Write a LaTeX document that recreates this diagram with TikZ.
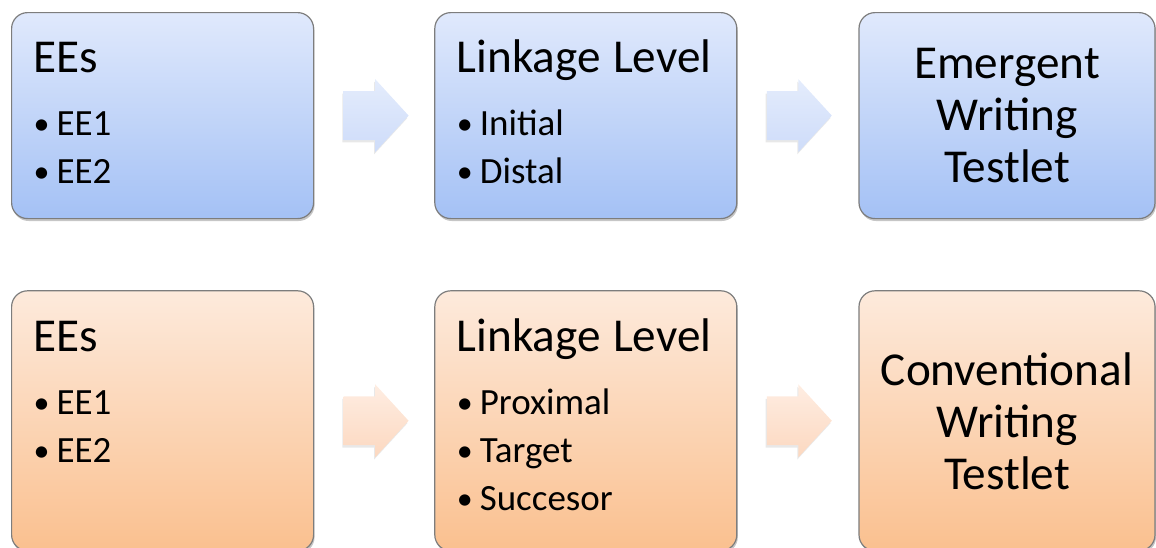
\documentclass[tikz,border=0pt]{standalone}
\usepackage{fontspec}
\setmainfont{Carlito}
\usepackage{xcolor}
\usepackage{tikz}
\usetikzlibrary{positioning}
\usetikzlibrary{calc}
\usetikzlibrary{shapes.arrows}
\usetikzlibrary{shadows}

\definecolor{bluetop}{RGB}{224,233,252}
\definecolor{bluebot}{RGB}{164,193,245}
\definecolor{orangetop}{RGB}{253,234,220}
\definecolor{orangebot}{RGB}{250,192,143}
\definecolor{bluearrtop}{RGB}{228,236,252}
\definecolor{bluearrbot}{RGB}{206,220,249}
\definecolor{orangearrtop}{RGB}{254,237,226}
\definecolor{orangearrbot}{RGB}{252,216,192}
\definecolor{boxline}{RGB}{125,125,125}

\newcommand{\headfont}{\fontsize{23.6}{26}\selectfont}
\newcommand{\listfont}{\fontsize{18.5}{24}\selectfont}
\newcommand{\bitem}[1]{\makebox[11.5pt][l]{\fontsize{16}{16}\selectfont\raisebox{0.6pt}{\textbullet}}#1}

\tikzset{
box/.style={
  rectangle,
  rounded corners=8pt,
  draw=boxline,
  line width=0.6pt,
  drop shadow={shadow xshift=0.5pt,shadow yshift=-1.2pt,opacity=0.45}
},
listbox/.style={
  box,
  text width=129pt,
  align=left,
  inner xsep=11pt,
  inner ysep=0pt,
  font=\listfont
},
headbox/.style={
  box,
  text width=140pt,
  align=center,
  inner sep=0pt,
  minimum width=148pt,
  font=\headfont
},
top row/.style={text height=30pt,text depth=73pt},
bottom row/.style={text height=30.5pt,text depth=99.5pt},
blue box/.style={top color=bluetop,bottom color=bluebot},
orange box/.style={top color=orangetop,bottom color=orangebot},
flowarrow/.style={
  single arrow,
  single arrow head extend=6pt,
  single arrow tip angle=95,
  single arrow head indent=0pt,
  minimum height=32.5pt,
  text height=12pt,
  text depth=12pt,
  inner sep=0pt,
  draw=none,
  anchor=tail,
  top color=#1arrtop,
  bottom color=#1arrbot,
  drop shadow={shadow xshift=-0.6pt,shadow yshift=-1.2pt,opacity=0.18}
},
}

\begin{document}
\begin{tikzpicture}[x=0.5pt,y=-0.5pt]
\useasboundingbox (0,0) rectangle (1156,547);

% emergent row
\node[listbox,top row,blue box,anchor=north west] (ee1) at (11,12)
  {{\headfont EEs}\\[7.5pt] \bitem{EE1}\\ \bitem{EE2}};
\node[listbox,top row,blue box,right=60pt of ee1] (ll1)
  {{\headfont\mbox{Linkage Level}}\\[7.5pt] \bitem{Initial}\\ \bitem{Distal}};
\node[headbox,blue box,minimum height=103pt,right=60.5pt of ll1] (tl1)
  {Emergent\\ Writing\\ Testlet};

% conventional row
\node[listbox,bottom row,orange box,below=35.5pt of ee1] (ee2)
  {{\headfont EEs}\\[7.5pt] \bitem{EE1}\\ \bitem{EE2}};
\node[listbox,bottom row,orange box,right=60pt of ee2] (ll2)
  {{\headfont\mbox{Linkage Level}}\\[7.5pt] \bitem{Proximal}\\ \bitem{Target}\\ \bitem{Succesor}};
\node[headbox,orange box,minimum height=130pt,right=60.5pt of ll2] (tl2)
  {Conventional\\ Writing\\ Testlet};

% the arrows, tail 14.5pt off the box on the left
\foreach \from/\to/\col [count=\i] in {ee1/ll1/blue,ll1/tl1/blue,ee2/ll2/orange,ll2/tl2/orange}
{
  \node[flowarrow=\col] (arr\i) at ($(\from.east)+(14.5pt,0)$) {};
}
\end{tikzpicture}
\end{document}
